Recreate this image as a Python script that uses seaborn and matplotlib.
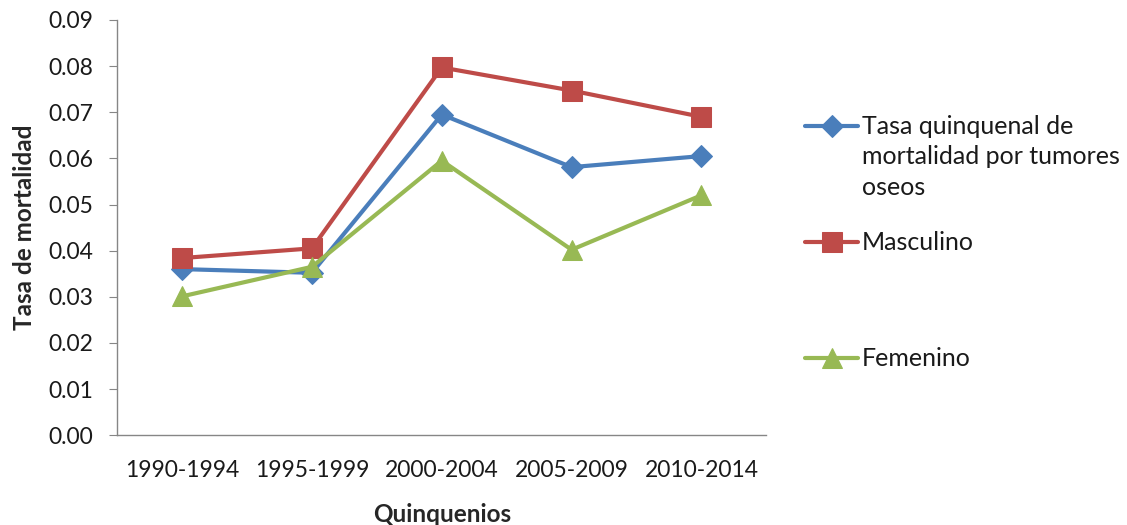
import matplotlib
matplotlib.use("Agg")
import matplotlib.pyplot as plt
import pandas as pd
import seaborn as sns

# Data
quinquenios = ["1990-1994", "1995-1999", "2000-2004", "2005-2009", "2010-2014"]
tasa_total = [0.0360, 0.0352, 0.0695, 0.0581, 0.0605]
masculino = [0.0384, 0.0405, 0.0797, 0.0747, 0.0690]
femenino = [0.0301, 0.0365, 0.0595, 0.0402, 0.0520]
series_names = ["Tasa quinquenal de", "Masculino", "Femenino"]
label_rest = "mortalidad por tumores\noseos"

rows = []
for name, values in zip(series_names, [tasa_total, masculino, femenino]):
    for q, v in zip(quinquenios, values):
        rows.append({"Quinquenios": q, "Tasa": v, "Serie": name})
df = pd.DataFrame(rows)

sns.set_style("white")
plt.rcParams["font.family"] = ["Lato", "DejaVu Sans"]
plt.rcParams["text.color"] = "#1a1a1a"

colors = dict(zip(series_names, ["#4A7EBB", "#BE4B48", "#98B954"]))
markers = dict(zip(series_names, ["D", "s", "^"]))
sizes = {"D": 11.5, "s": 14, "^": 15}

fig = plt.figure(figsize=(11.27, 5.25), dpi=100)
ax = fig.add_axes([0.104, 0.171, 0.576, 0.791])

for name in series_names:
    sub = df[df["Serie"] == name]
    sns.lineplot(data=sub, x="Quinquenios", y="Tasa", ax=ax, color=colors[name],
                 marker=markers[name], markersize=sizes[markers[name]],
                 markeredgecolor=colors[name], linewidth=3, label=name, sort=False)

ax.set_xlim(-0.5, 4.5)
ax.set_ylim(0, 0.09)
ax.set_yticks([i / 100 for i in range(10)])
ax.set_yticklabels([f"{i / 100:.2f}" for i in range(10)])
ax.tick_params(axis="y", length=6, color="#868686", labelsize=16.5, left=True,
               direction="out", pad=11, labelcolor="#1a1a1a")
ax.tick_params(axis="x", length=0, labelsize=16.5, pad=18, labelcolor="#1a1a1a")

for side in ["top", "right"]:
    ax.spines[side].set_visible(False)
for side in ["left", "bottom"]:
    ax.spines[side].set_color("#868686")
    ax.spines[side].set_linewidth(1)

ax.set_xlabel("Quinquenios", fontsize=17.5, fontweight="bold", labelpad=16)
ax.set_ylabel("Tasa de mortalidad", fontsize=17.5, fontweight="bold", labelpad=9)

leg = ax.legend(loc="upper left", bbox_to_anchor=(0.714, 0.78), bbox_transform=fig.transFigure,
                frameon=False, fontsize=18, handlelength=2.15, handletextpad=0.15,
                labelspacing=3.72, borderpad=0, borderaxespad=0)

# continuation lines of the first legend label, placed under its first line
fig.canvas.draw()
bb = leg.get_texts()[0].get_window_extent().transformed(fig.transFigure.inverted())
fig.text(bb.x0, bb.y0 - 0.012, label_rest, ha="left", va="top", fontsize=18, linespacing=1.45)

fig.savefig("out.png", dpi=100)
